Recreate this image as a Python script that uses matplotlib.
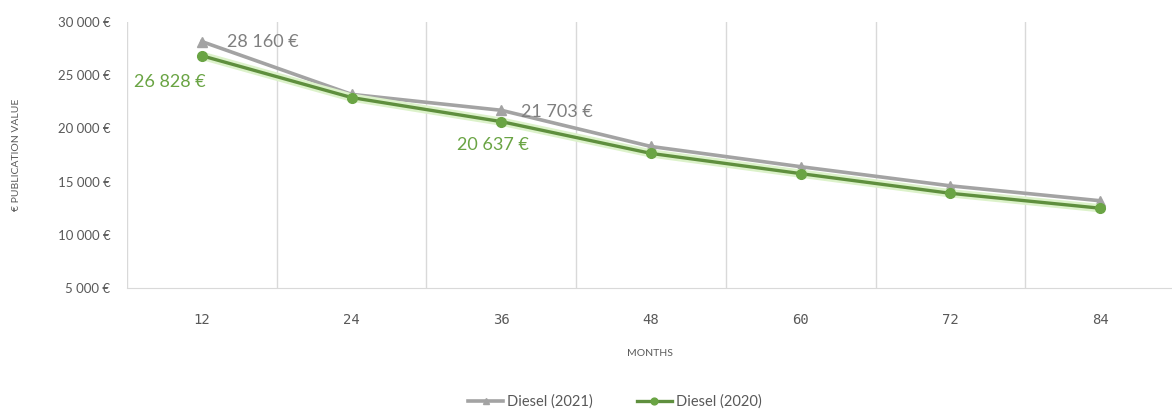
import matplotlib.pyplot as plt
from matplotlib.ticker import FuncFormatter

# residual value of a diesel vehicle over the contract length
months = [12, 24, 36, 48, 60, 72, 84]
diesel_2021 = [28160, 23200, 21703, 18300, 16400, 14600, 13200]
diesel_2020 = [26828, 22900, 20637, 17650, 15750, 13900, 12500]

GREY = '#a3a3a3'
GREEN = '#6aa444'
TEXT = '#595959'

plt.rcParams['font.family'] = ['Lato', 'DejaVu Sans']

fig = plt.figure(figsize=(11.72, 4.16), dpi=100)
ax = fig.add_axes([127 / 1172, 1 - 288 / 416, 1045 / 1172, 266 / 416])

x = list(range(len(months)))

ax.plot(x, diesel_2021, color=GREY, lw=2.6, marker='^', ms=7,
        mfc=GREY, mec=GREY, label='Diesel (2021)', zorder=3)
# soft halo under the 2020 line
ax.plot(x, diesel_2020, color='#dcf2ca', lw=6, zorder=3.5,
        solid_capstyle='round')
ax.plot(x, diesel_2020, color='#5f8f3e', lw=2.4, marker='o', ms=7,
        mfc=GREEN, mec=GREEN, label='Diesel (2020)', zorder=4)

# value labels on the first and third points
fmt = lambda v: f'{v:,.0f}'.replace(',', ' ') + ' €'
ax.annotate(fmt(diesel_2021[0]), (x[0], diesel_2021[0]), xytext=(18, 0),
            textcoords='offset points', color='#7f7f7f', fontsize=13,
            va='center', ha='left')
ax.annotate(fmt(diesel_2020[0]), (x[0], diesel_2020[0]), xytext=(3, -19),
            textcoords='offset points', color=GREEN, fontsize=13,
            va='center', ha='right')
ax.annotate(fmt(diesel_2021[2]), (x[2], diesel_2021[2]), xytext=(14, -1),
            textcoords='offset points', color='#7f7f7f', fontsize=13,
            va='center', ha='left')
ax.annotate(fmt(diesel_2020[2]), (x[2], diesel_2020[2]), xytext=(20, -17),
            textcoords='offset points', color=GREEN, fontsize=13,
            va='center', ha='right')

ax.set_xlim(-0.5, 6.48)
ax.set_ylim(5000, 30000)
ax.set_yticks(range(5000, 30001, 5000))
ax.yaxis.set_major_formatter(FuncFormatter(lambda v, p: fmt(v)))
ax.set_xticks(x)
ax.set_xticklabels([str(m) for m in months], family='DejaVu Sans Mono',
                   fontsize=10, color=TEXT)
for lab in ax.get_yticklabels():
    lab.set_fontsize(9.5)
    lab.set_color(TEXT)
ax.tick_params(axis='x', length=0, pad=18)
ax.tick_params(axis='y', length=0, pad=12)

# vertical gridlines sit between the categories
for b in [i - 0.5 for i in range(len(months))]:
    ax.axvline(b, color='#d9d9d9', lw=1, zorder=0)

for s in ['top', 'right', 'left']:
    ax.spines[s].set_visible(False)
ax.spines['bottom'].set_color('#d9d9d9')

ax.set_ylabel('€ PUBLICATION VALUE', fontsize=7.5, color=TEXT, labelpad=26)
ax.set_xlabel('MONTHS', fontsize=7.5, color=TEXT, labelpad=16)

fig.legend(loc='lower center', bbox_to_anchor=(615 / 1172, -0.015), ncol=2,
           frameon=False, fontsize=10.5, labelcolor=TEXT, handlelength=2.4,
           columnspacing=3, handletextpad=0.3, markerscale=0.7)

fig.savefig('out.png', dpi=100)
